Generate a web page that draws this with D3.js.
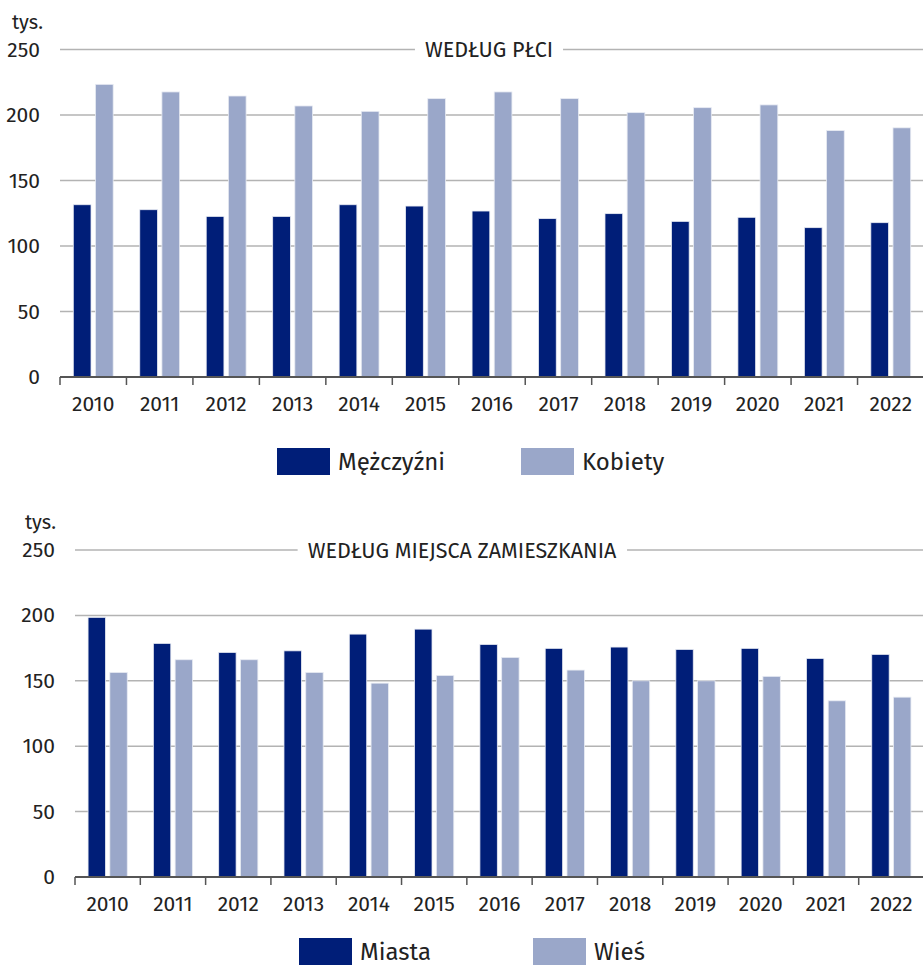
<!DOCTYPE html>
<html>
<head>
<meta charset="utf-8">
<script src="https://cdn.jsdelivr.net/npm/d3@7"></script>
<style>
  body { margin: 0; background: #fff; }
  svg { display: block; font-family: "Fira Sans", "Open Sans", sans-serif; }
</style>
</head>
<body>
<svg id="chart" width="923" height="965"></svg>
<script>
// Data (thousands)
const years = ["2010", "2011", "2012", "2013", "2014", "2015", "2016", "2017", "2018", "2019", "2020", "2021", "2022"];
const men = [131.5, 127.7, 122.6, 122.6, 131.5, 130.5, 126.7, 120.9, 124.7, 118.8, 121.9, 114.0, 117.8];
const women = [223.4, 217.6, 214.5, 206.9, 202.8, 212.5, 217.6, 212.5, 201.8, 205.6, 207.7, 188.1, 190.2];
const towns = [198.5, 178.6, 171.7, 172.9, 185.7, 189.5, 177.8, 174.8, 175.8, 174.0, 174.8, 167.1, 170.2];
const villages = [156.4, 166.1, 166.1, 156.4, 148.2, 154.1, 167.9, 158.2, 150.0, 150.0, 153.4, 134.7, 137.5];
const yTicks = [0, 50, 100, 150, 200, 250];

const darkBlue = "#001e78";
const lightBlue = "#9aa7c9";

const svg = d3.select("#chart");

//Draws one grouped bar panel
function drawPanel(opt) {
    const g = svg.append("g");
    const keys = ["a", "b"];
    const rows = years.map((yr, i) => ({ year: yr, a: opt.seriesA[i], b: opt.seriesB[i] }));

    const y = d3.scaleLinear().domain([0, 250]).range([opt.bottom, opt.top]);
    const x0 = d3.scaleBand().domain(years).range([opt.left, 924])
        .paddingInner(0.4).paddingOuter(0.2);
    const x1 = d3.scaleBand().domain(keys).range([0, x0.bandwidth()]).paddingInner(0.2);
    const color = d3.scaleOrdinal().domain(keys).range([darkBlue, lightBlue]);

    //Gridlines
    g.selectAll("line.grid")
        .data(yTicks.filter(d => d > 0))
        .join("line")
        .attr("class", "grid")
        .attr("x1", opt.left).attr("x2", 923)
        .attr("y1", d => y(d)).attr("y2", d => y(d))
        .attr("stroke", "#b3b3b3")
        .attr("stroke-width", 1.5);

    //Y labels
    g.selectAll("text.ylab")
        .data(yTicks)
        .join("text")
        .attr("class", "ylab")
        .attr("x", opt.labelRight)
        .attr("y", d => y(d) + 7)
        .attr("text-anchor", "end")
        .attr("font-size", 21)
        .attr("fill", "#222")
        .text(d => d);

    g.append("text")
        .attr("x", opt.unitX)
        .attr("y", opt.top - 21)
        .attr("font-size", 20)
        .attr("fill", "#222")
        .text("tys.");

    //Title sitting on the top gridline
    const title = g.append("text")
        .attr("x", opt.titleX)
        .attr("y", y(250) + 7.5)
        .attr("text-anchor", "middle")
        .attr("font-size", 21.5)
        .attr("fill", "#222")
        .text(opt.title);
    const bb = title.node().getBBox();
    g.insert("rect", "text")
        .attr("x", bb.x - 10).attr("y", bb.y)
        .attr("width", bb.width + 20).attr("height", bb.height)
        .attr("fill", "#fff");

    //Bars
    g.append("g")
        .selectAll("g")
        .data(rows)
        .join("g")
        .attr("transform", d => `translate(${x0(d.year)},0)`)
        .selectAll("rect")
        .data(d => keys.map(k => ({ key: k, value: d[k] })))
        .join("rect")
        .attr("x", d => x1(d.key))
        .attr("y", d => y(d.value))
        .attr("width", x1.bandwidth())
        .attr("height", d => y(0) - y(d.value))
        .attr("fill", d => color(d.key))
        .attr("stroke", "#e8ebf3")
        .attr("stroke-width", 0.8);

    //X axis, ticks between categories
    g.append("line")
        .attr("x1", opt.left).attr("x2", 923)
        .attr("y1", y(0)).attr("y2", y(0))
        .attr("stroke", "#555")
        .attr("stroke-width", 2);

    const step = x0.step();
    g.selectAll("line.xtick")
        .data(d3.range(years.length + 1))
        .join("line")
        .attr("class", "xtick")
        .attr("x1", i => opt.left + i * step).attr("x2", i => opt.left + i * step)
        .attr("y1", y(0)).attr("y2", y(0) + 8)
        .attr("stroke", "#555")
        .attr("stroke-width", 1.5);

    g.selectAll("text.xlab")
        .data(years)
        .join("text")
        .attr("class", "xlab")
        .attr("x", d => x0(d) + x0.bandwidth() / 2)
        .attr("y", y(0) + 34)
        .attr("text-anchor", "middle")
        .attr("font-size", 21)
        .attr("fill", "#222")
        .text(d => d);

    //Legend
    const legend = g.append("g")
        .selectAll("g")
        .data(opt.legend)
        .join("g")
        .attr("transform", d => `translate(${d.x},${opt.legendY})`);
    legend.append("rect")
        .attr("width", 53).attr("height", 27)
        .attr("fill", (d, i) => color(keys[i]));
    legend.append("text")
        .attr("x", 61).attr("y", 22)
        .attr("font-size", 24)
        .attr("fill", "#222")
        .text(d => d.name);
}

drawPanel({
    seriesA: men, seriesB: women,
    top: 49.5, bottom: 377, left: 60, labelRight: 40, unitX: 12,
    title: "WEDŁUG PŁCI", titleX: 489,
    legendY: 448,
    legend: [{ name: "Mężczyźni", x: 277 }, { name: "Kobiety", x: 521 }]
});

drawPanel({
    seriesA: towns, seriesB: villages,
    top: 550, bottom: 877, left: 75, labelRight: 55, unitX: 25,
    title: "WEDŁUG MIEJSCA ZAMIESZKANIA", titleX: 462,
    legendY: 938,
    legend: [{ name: "Miasta", x: 299 }, { name: "Wieś", x: 533 }]
});
</script>
</body>
</html>
